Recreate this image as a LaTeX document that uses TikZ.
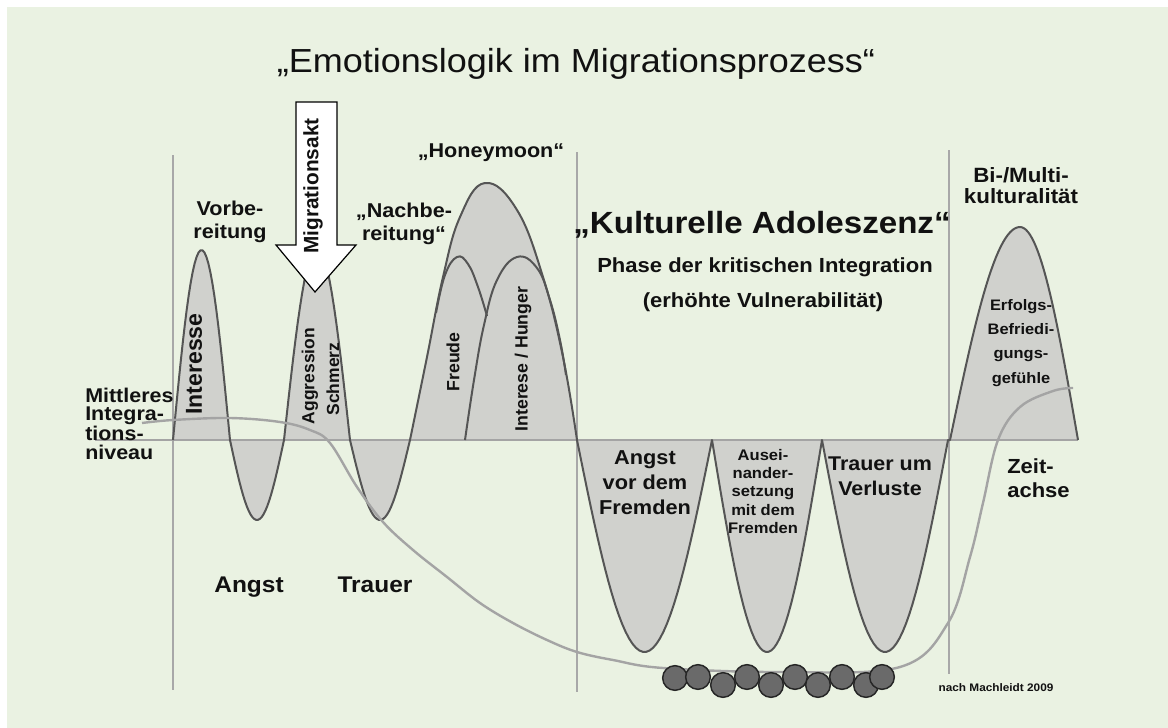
\documentclass[tikz,border=0pt]{standalone}
\usepackage{fontspec}
\setmainfont{Liberation Sans}
\newfontfamily\hf[FakeStretch=1.08]{Liberation Sans}
\newfontfamily\rf{Liberation Sans}
\definecolor{bg}{HTML}{EAF2E2}
\definecolor{humpfill}{HTML}{D0D1CD}
\definecolor{humpline}{HTML}{555555}
\definecolor{levelline}{HTML}{A4A4A4}
\definecolor{vline}{HTML}{A8A8A8}
\definecolor{beadfill}{HTML}{6A6A6A}
\definecolor{ink}{HTML}{111111}
\tikzset{
  humpdraw/.style={draw=humpline, line width=1.5pt, line join=round},
  vl/.style={draw=vline, line width=0.9pt},
  bead/.style={circle, minimum size=18.5pt, inner sep=0pt, fill=beadfill, draw=black!85, line width=1.1pt},
  hlab/.style n args={2}{text=ink, inner sep=0pt, align=center, font={\hf\bfseries\fontsize{#1}{#2}\selectfont}},
  rlab/.style={text=ink, inner sep=0pt, rotate=90, font={\rf\bfseries\fontsize{#1}{#1}\selectfont}}
}
\newcommand\wavepath{(173,440)
  -- plot[domain=173:230,samples=30] (\x,{440-190*sin((\x-173)/57*180)})
  -- plot[domain=230:284,samples=30] (\x,{440+80*sin((\x-230)/54*180)})
  -- plot[domain=284:350,samples=30] (\x,{440-193*sin((\x-284)/66*180)})
  -- plot[domain=350:410,samples=30] (\x,{440+80*sin((\x-350)/60*180)})
  -- plot[smooth,tension=0.7] coordinates {(410,440) (427,357) (443,277) (460,217) (485,183) (517,210) (543,277) (563,357) (577,440)}
  -- plot[domain=577:712,samples=40] (\x,{440+212*sin((\x-577)/135*180)})
  -- plot[domain=712:822,samples=40] (\x,{440+212*sin((\x-712)/110*180)})
  -- plot[domain=822:948,samples=40] (\x,{440+212*sin((\x-822)/126*180)})
  -- (950,440)
  -- plot[domain=950:1020,samples=30] (\x,{440-213*sin((\x-950)/70*90)})
  -- plot[domain=1020:1078,samples=30] (\x,{440-213*cos((\x-1020)/58*90)})}
\begin{document}
\begin{tikzpicture}[x=0.75pt,y=-0.75pt]
\useasboundingbox (0,0) rectangle (1168,728);
\fill[white] (0,0) rectangle (1168,728);
\fill[bg] (7,7) rectangle (1168,728);
% filled humps
\fill[humpfill] \wavepath -- cycle;
% vertical phase lines and base line
\coordinate (v1t) at (173,155); \coordinate (v1b) at (173,690);
\coordinate (v2t) at (577,152); \coordinate (v2b) at (577,692);
\coordinate (v3t) at (949,150); \coordinate (v3b) at (949,674);
\coordinate (bl) at (95,440); \coordinate (br) at (1078,440);
\draw[vl] (v1t) -- (v1b);
\draw[vl] (v2t) -- (v2b);
\draw[vl] (v3t) -- (v3b);
\draw[draw=levelline, line width=1.6pt] (bl) -- (br);
% outlines
\draw[humpdraw] \wavepath;
\draw[humpdraw] plot[smooth,tension=0.7] coordinates {(436,313) (445,275) (457,257) (468,264) (478,287) (487,316)};
\draw[humpdraw] plot[smooth,tension=0.7] coordinates {(465,440) (474,380) (484,325) (497,280) (517,257) (537,268) (550,300) (560,340) (566,375)};
% integration level curve
\draw[levelline, line width=1.8pt] plot[smooth,tension=0.6] coordinates {(142,423) (173,420) (230,418) (280,422) (310,430) (330,443) (357,487) (383,522) (413,550) (447,577) (480,603) (513,623) (547,640) (577,652) (613,660) (663,668) (780,672) (900,667) (948,623) (970,557) (983,503) (998,440) (1020,407) (1053,391) (1073,388)};
% beads
\foreach \bx/\by [count=\i] in {675/678, 698/677, 723/685, 747/677, 771/685, 795/677, 818/685, 842/677, 866/685, 882/677}
  \node[bead] (b\i) at (\bx,\by) {};
% migration arrow
\draw[fill=white, draw=black, line width=0.9pt, line join=miter] (296,102) -- (337,102) -- (337,245) -- (356,245) -- (315,292) -- (276,245) -- (296,245) -- cycle;
\node[rlab=15.6pt] (akt) at (313,186) {Migrationsakt};
% title
\node[text=ink, inner sep=0pt, anchor=base, font={\hf\fontsize{25pt}{30pt}\selectfont}] (title) at (576,72) {„Emotionslogik im Migrationsprozess“};
% upper labels
\node[hlab={15pt}{17pt}, anchor=north] (vorb) at (230,201) {Vorbe-\\reitung};
\node[hlab={15pt}{17pt}, anchor=north] (nachb) at (404,203) {„Nachbe-\\reitung“};
\node[hlab={15pt}{18pt}, anchor=base] (honey) at (491,157) {„Honeymoon“};
\node[hlab={23pt}{26pt}, anchor=base] (kult) at (762,233) {„Kulturelle Adoleszenz“};
\node[hlab={15.3pt}{18pt}, anchor=base] (phase) at (765,272) {Phase der kritischen Integration};
\node[hlab={15.3pt}{18pt}, anchor=base] (vuln) at (763,307) {(erhöhte Vulnerabilität)};
\node[hlab={15.5pt}{15.75pt}, anchor=north] (bimulti) at (1021,167) {Bi-/Multi-\\kulturalität};
\node[hlab={11.4pt}{18.2pt}, anchor=north] (erfolg) at (1021,299) {Erfolgs-\\Befriedi-\\gungs-\\gefühle};
\node[hlab={15.3pt}{18pt}, anchor=north west, align=left] (zeit) at (1007,458) {Zeit-\\achse};
\node[hlab={14.9pt}{13.7pt}, anchor=north west, align=left] (mittl) at (85,388) {Mittleres\\Integra-\\tions-\\niveau};
% rotated labels
\node[rlab=17.3pt] (inter) at (194,364) {Interesse};
\node[rlab=13.1pt] (aggr) at (310,376) {Aggression};
\node[rlab=13.1pt] (schm) at (333,379) {Schmerz};
\node[rlab=13.3pt] (freude) at (453,362) {Freude};
\node[rlab=13.3pt] (hunger) at (523,359) {Interese / Hunger};
% lower labels
\node[hlab={17pt}{20pt}, anchor=base] (angst) at (249,592) {Angst};
\node[hlab={17pt}{20pt}, anchor=base] (trauer) at (375,592) {Trauer};
\node[hlab={15.1pt}{18.75pt}, anchor=north] (fremd) at (645,450) {Angst\\vor dem\\Fremden};
\node[hlab={11.5pt}{13.7pt}, anchor=north] (ausei) at (763,449) {Ausei-\\nander-\\setzung\\mit dem\\Fremden};
\node[hlab={14.9pt}{18.75pt}, anchor=north] (verl) at (880,457) {Trauer um\\Verluste};
\node[hlab={8.2pt}{10pt}, anchor=base] (quelle) at (996,691) {nach Machleidt 2009};
\end{tikzpicture}
\end{document}
